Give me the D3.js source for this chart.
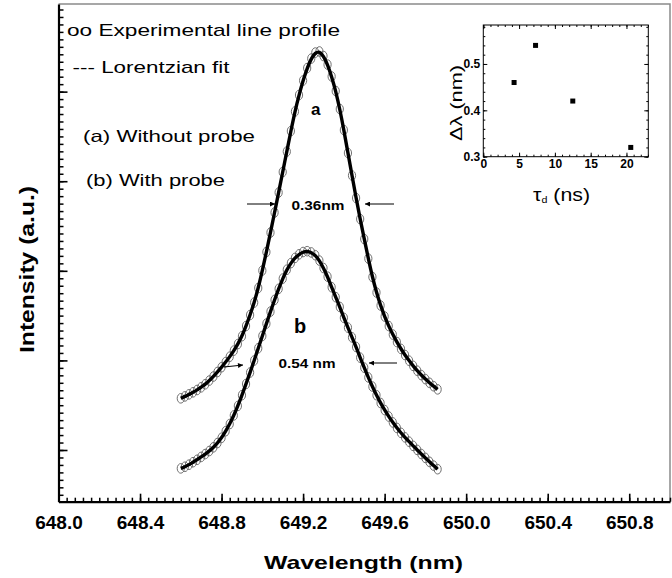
<!DOCTYPE html>
<html><head><meta charset="utf-8">
<script src="https://cdn.jsdelivr.net/npm/d3@7"></script>
<style>body{margin:0;background:#fff}svg{display:block}text{font-family:"Liberation Sans",Arial,sans-serif}</style>
</head><body><svg id="c" width="672" height="578"></svg>
<script>
// ---- data ----
const wavelength = [
648.60,648.62,648.64,648.66,648.68,648.70,648.72,648.74,648.76,648.78,
648.80,648.82,648.84,648.86,648.88,648.90,648.92,648.94,648.96,648.98,
649.00,649.02,649.04,649.06,649.08,649.10,649.12,649.14,649.16,649.18,
649.20,649.22,649.24,649.26,649.28,649.30,649.32,649.34,649.36,649.38,
649.40,649.42,649.44,649.46,649.48,649.50,649.52,649.54,649.56,649.58,
649.60,649.62,649.64,649.66,649.68,649.70,649.72,649.74,649.76,649.78,
649.80,649.82,649.84,649.86];
const intensityA = [
1.577,1.598,1.621,1.644,1.670,1.700,1.734,1.775,1.820,1.871,
1.924,1.981,2.041,2.109,2.183,2.270,2.384,2.507,2.646,2.808,
3.003,3.210,3.427,3.651,3.874,4.103,4.331,4.560,4.778,4.962,
5.124,5.263,5.369,5.436,5.448,5.397,5.302,5.169,5.007,4.806,
4.571,4.315,4.064,3.813,3.578,3.355,3.137,2.931,2.758,2.613,
2.490,2.384,2.289,2.205,2.129,2.060,1.997,1.939,1.885,1.836,
1.791,1.750,1.712,1.677];
const intensityB = [
0.795,0.813,0.836,0.864,0.891,0.923,0.955,0.989,1.030,1.078,
1.136,1.210,1.290,1.386,1.492,1.612,1.737,1.865,1.999,2.136,
2.273,2.411,2.545,2.675,2.799,2.913,3.012,3.086,3.144,3.184,
3.210,3.219,3.205,3.174,3.114,3.031,2.935,2.817,2.706,2.597,
2.475,2.366,2.257,2.150,2.031,1.919,1.810,1.708,1.612,1.525,
1.446,1.374,1.308,1.247,1.192,1.141,1.093,1.046,1.001,0.955,
0.912,0.868,0.826,0.786];
const xTicks = [648.0,648.4,648.8,649.2,649.6,650.0,650.4,650.8];
const yTicks = [1,2,3,4,5];
const tauD = [4.3, 7.3, 12.5, 20.6];
const deltaLambda = [0.46, 0.54, 0.42, 0.32];
const insetXTicks = [0,5,10,15,20];
const insetYTicks = [0.3,0.4,0.5];

// ---- drawing ----
const svg = d3.select("#c");
const L = 58.5, R = 670, T = 4, B = 501.7;
const x = d3.scaleLinear().domain([648, 651]).range([L, R]);
const y = d3.scaleLinear().domain([0.423, 5.978]).range([B, T]);

const defs = svg.append("defs");
defs.append("marker").attr("id","arr").attr("viewBox","0 0 10 10").attr("refX",10).attr("refY",5)
  .attr("markerWidth",7).attr("markerHeight",5).attr("orient","auto").attr("markerUnits","userSpaceOnUse")
  .append("path").attr("d","M0,0L10,5L0,10z").attr("fill","#000");

// frame top/right
svg.append("path").attr("d",`M${L},${T}H${R}V${B}`).attr("fill","none").attr("stroke","#8a8a8a").attr("stroke-width",1.5);

// minor ticks
const xMinor = d3.range(648, 651.001, 0.04).filter(v => v <= 651);
svg.append("g").attr("transform",`translate(0,${B})`)
  .call(d3.axisBottom(x).tickValues(xMinor).tickSizeInner(-4).tickSizeOuter(0).tickFormat(""))
  .call(g => { g.select(".domain").remove(); g.selectAll("line").attr("stroke-width",1.5); });
const yMinor = d3.range(0.5, 5.98, 1/12);
svg.append("g").attr("transform",`translate(${L},0)`)
  .call(d3.axisLeft(y).tickValues(yMinor).tickSizeInner(-5).tickSizeOuter(0).tickFormat(""))
  .call(g => { g.select(".domain").remove(); g.selectAll("line").attr("stroke-width",1.5); });

// major axes
const gx = svg.append("g").attr("transform",`translate(0,${B})`)
  .call(d3.axisBottom(x).tickValues(xTicks).tickSizeInner(-8).tickSizeOuter(0).tickPadding(14).tickFormat(d3.format(".1f")));
gx.select(".domain").attr("stroke-width",2.2);
gx.selectAll("line").attr("stroke-width",1.6);
gx.selectAll("text").attr("font-size",19).attr("font-weight","bold").attr("fill","#000");
const gy = svg.append("g").attr("transform",`translate(${L},0)`)
  .call(d3.axisLeft(y).tickValues(yTicks).tickSizeInner(-9).tickSizeOuter(0).tickFormat(""));
gy.select(".domain").attr("stroke-width",2.2);
gy.selectAll("line").attr("stroke-width",1.6);

// axis titles
svg.append("text").attr("x",264).attr("y",569).attr("font-size",19).attr("font-weight","bold")
  .attr("textLength",199).attr("lengthAdjust","spacingAndGlyphs").text("Wavelength (nm)");
svg.append("text").attr("transform","translate(33.5,353) rotate(-90)").attr("font-size",20).attr("font-weight","bold")
  .attr("textLength",167).attr("lengthAdjust","spacingAndGlyphs").text("Intensity (a.u.)");

// curves
const series = [intensityA, intensityB];
const line = d3.line().x(d => x(d[0])).y(d => y(d[1])).curve(d3.curveBasis);
series.forEach(s => {
  const pts = wavelength.map((w,i) => [w, s[i]]);
  svg.append("g").selectAll("ellipse").data(pts).join("ellipse")
    .attr("cx", d => x(d[0])).attr("cy", d => y(d[1])).attr("rx",3.6).attr("ry",4.8)
    .attr("fill","none").attr("stroke","#606060").attr("stroke-width",0.9);
  svg.append("path").datum(pts).attr("d", line).attr("fill","none").attr("stroke","#000").attr("stroke-width",3.4);
});

// legend / annotations
function txt(xp, yp, s, size, len, bold){
  const t = svg.append("text").attr("x",xp).attr("y",yp).attr("font-size",size).text(s);
  if (len) t.attr("textLength",len).attr("lengthAdjust","spacingAndGlyphs");
  if (bold) t.attr("font-weight","bold");
  return t;
}
txt(67, 36, "oo Experimental line profile", 17, 273);
txt(72.5, 73, "--- Lorentzian fit", 17, 157);
txt(83, 141.5, "(a) Without probe", 16.5, 172);
txt(86, 186, "(b) With probe", 16.5, 139);
txt(311, 115, "a", 17, null, true);
txt(294, 333, "b", 20, null, true);
txt(291.5, 209.5, "0.36nm", 13, 53, true);
txt(278.5, 367.5, "0.54 nm", 13, 57, true);

function arrow(x1,y1,x2,y2){
  svg.append("line").attr("x1",x1).attr("y1",y1).attr("x2",x2).attr("y2",y2)
    .attr("stroke","#000").attr("stroke-width",1).attr("marker-end","url(#arr)");
}
arrow(247,204,275,204); arrow(394,204,365,204);
arrow(224,367,243,365); arrow(397,363,369,363);

// ---- inset ----
const iL = 483.3, iR = 648.3, iT = 25, iB = 156.7;
const ix = d3.scaleLinear().domain([0, 23.05]).range([iL, iR]);
const iy = d3.scaleLinear().domain([0.3, 0.584]).range([iB, iT]);
svg.append("rect").attr("x",iL).attr("y",iT).attr("width",iR-iL).attr("height",iB-iT)
  .attr("fill","#fff").attr("stroke","#000").attr("stroke-width",1);
const ixMinor = d3.range(0, 23.01, 1);
const iyMinor = d3.range(0.3, 0.584, 0.02);
[[`translate(0,${iB})`, d3.axisBottom(ix)], [`translate(0,${iT})`, d3.axisTop(ix)]].forEach(([tr, ax]) => {
  svg.append("g").attr("transform",tr).call(ax.tickValues(ixMinor).tickSizeInner(-2).tickSizeOuter(0).tickFormat(""))
    .call(g => g.select(".domain").remove());
  svg.append("g").attr("transform",tr).call(ax.tickValues(insetXTicks).tickSizeInner(-4).tickSizeOuter(0).tickFormat(""))
    .call(g => g.select(".domain").remove());
});
[[`translate(${iL},0)`, d3.axisLeft(iy)], [`translate(${iR},0)`, d3.axisRight(iy)]].forEach(([tr, ax]) => {
  svg.append("g").attr("transform",tr).call(ax.tickValues(iyMinor).tickSizeInner(-2).tickSizeOuter(0).tickFormat(""))
    .call(g => g.select(".domain").remove());
  svg.append("g").attr("transform",tr).call(ax.tickValues(insetYTicks).tickSizeInner(-4).tickSizeOuter(0).tickFormat(""))
    .call(g => g.select(".domain").remove());
});
const ixl = svg.append("g").attr("transform",`translate(0,${iB})`)
  .call(d3.axisBottom(ix).tickValues(insetXTicks).tickSize(0).tickPadding(3).tickFormat(d3.format("d")));
ixl.select(".domain").remove();
ixl.selectAll("text").attr("font-size",12).attr("font-weight","bold");
const iyl = svg.append("g").attr("transform",`translate(${iL},0)`)
  .call(d3.axisLeft(iy).tickValues(insetYTicks).tickSize(0).tickPadding(3).tickFormat(d3.format(".1f")));
iyl.select(".domain").remove();
iyl.selectAll("text").attr("font-size",12).attr("font-weight","bold");

svg.append("g").selectAll("rect").data(tauD.map((t,i)=>[t, deltaLambda[i]])).join("rect")
  .attr("x", d => ix(d[0]) - 2.5).attr("y", d => iy(d[1]) - 2.5).attr("width",5).attr("height",5).attr("fill","#000");

svg.append("text").attr("transform","translate(461.5,141) rotate(-90)").attr("font-size",17)
  .attr("textLength",76).attr("lengthAdjust","spacingAndGlyphs").text("Δλ (nm)");
const tl = svg.append("text").attr("x",533).attr("y",201).attr("font-size",18)
  .attr("textLength",57).attr("lengthAdjust","spacingAndGlyphs");
tl.append("tspan").text("τ");
tl.append("tspan").attr("font-size",9).attr("dy",2).text("d");
tl.append("tspan").attr("dy",-2).text(" (ns)");
</script></body></html>
